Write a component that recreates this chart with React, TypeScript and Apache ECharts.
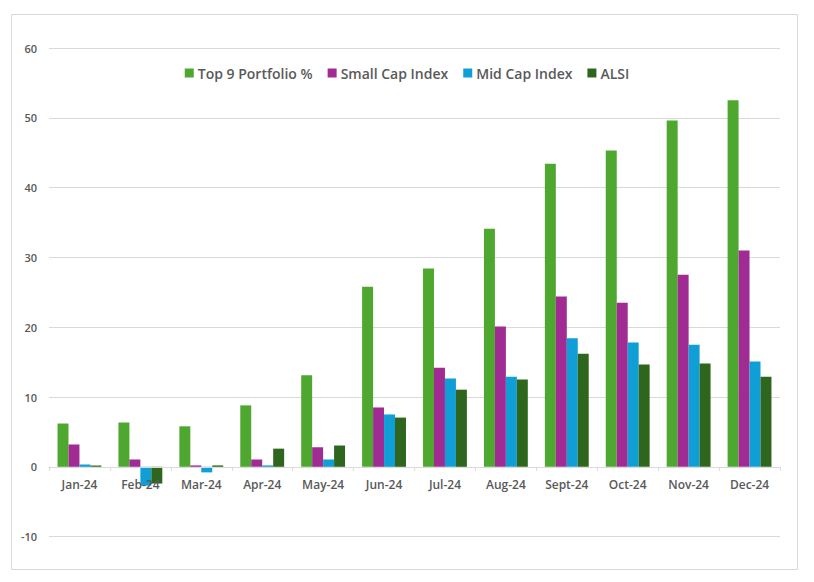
import React, { useEffect, useRef } from "react";
import * as echarts from "echarts";

const categories = ["Jan-24", "Feb-24", "Mar-24", "Apr-24", "May-24", "Jun-24", "Jul-24", "Aug-24", "Sept-24", "Oct-24", "Nov-24", "Dec-24"];
const top9 = [6.2, 6.35, 5.8, 8.8, 13.1, 25.8, 28.4, 34.1, 43.4, 45.3, 49.6, 52.5];
const smallCap = [3.2, 1.05, 0.2, 1.05, 2.8, 8.5, 14.2, 20.1, 24.4, 23.5, 27.5, 31.0];
const midCap = [0.33, -2.7, -0.8, 0.2, 1.05, 7.5, 12.65, 12.9, 18.4, 17.8, 17.5, 15.1];
const alsi = [0.2, -2.4, 0.2, 2.6, 3.05, 7.05, 11.05, 12.5, 16.2, 14.65, 14.8, 12.9];

const FONT = "'Open Sans', 'Noto Sans', sans-serif";
const TEXT = "#595959";
const GRID = "#d9d9d9";
const Y_MIN = -10;
const Y_MAX = 60;

export default function App() {
  const ref = useRef<HTMLDivElement>(null);
  useEffect(() => {
    document.body.style.margin = "0";
    const chart = echarts.init(ref.current!, null, { renderer: "svg" });
    const gridTop = 48;
    const gridBottom = 45.4;
    const plotH = 582 - gridTop - gridBottom;
    const zeroOffset = (plotH * (0 - Y_MIN)) / (Y_MAX - Y_MIN);
    const mk = (name: string, data: number[], color: string) => ({
      name,
      type: "bar",
      data,
      barGap: "0%",
      barCategoryGap: "28%",
      itemStyle: { color },
    });
    chart.setOption({
      animation: false,
      backgroundColor: "#ffffff",
      textStyle: { fontFamily: FONT },
      graphic: [
        {
          type: "rect",
          shape: { x: 11.5, y: 14.5, width: 786, height: 555 },
          style: { fill: "none", stroke: GRID, lineWidth: 1 },
          silent: true,
        },
      ],
      legend: {
        top: 61,
        left: "center",
        itemWidth: 9,
        itemHeight: 9,
        itemGap: 15,
        icon: "rect",
        textStyle: { fontSize: 14, fontWeight: 600, color: TEXT, fontFamily: FONT, padding: [0, 0, 0, -1] },
        data: ["Top 9 Portfolio %", "Small Cap Index", "Mid Cap Index", "ALSI"],
      },
      grid: { left: 49, right: 34, top: gridTop, bottom: gridBottom, containLabel: false },
      xAxis: {
        type: "category",
        data: categories,
        position: "bottom",
        offset: -zeroOffset,
        axisLine: { onZero: false, lineStyle: { color: GRID, width: 1 } },
        axisTick: { show: true, length: 4, lineStyle: { color: GRID } },
        axisLabel: { color: TEXT, fontSize: 12, fontWeight: 600, margin: 12, fontFamily: FONT, interval: 0 },
        z: 10,
      },
      yAxis: {
        type: "value",
        min: Y_MIN,
        max: Y_MAX,
        interval: 10,
        axisLine: { show: false },
        axisTick: { show: false },
        splitLine: { lineStyle: { color: GRID, width: 1 } },
        axisLabel: { color: TEXT, fontSize: 11, fontWeight: 600, margin: 12, fontFamily: FONT },
      },
      series: [
        mk("Top 9 Portfolio %", top9, "#4EA72E"),
        mk("Small Cap Index", smallCap, "#A02B93"),
        mk("Mid Cap Index", midCap, "#0F9ED5"),
        mk("ALSI", alsi, "#2E661E"),
      ],
    });
    return () => chart.dispose();
  }, []);
  return <div ref={ref} style={{ width: 814, height: 582 }} />;
}
